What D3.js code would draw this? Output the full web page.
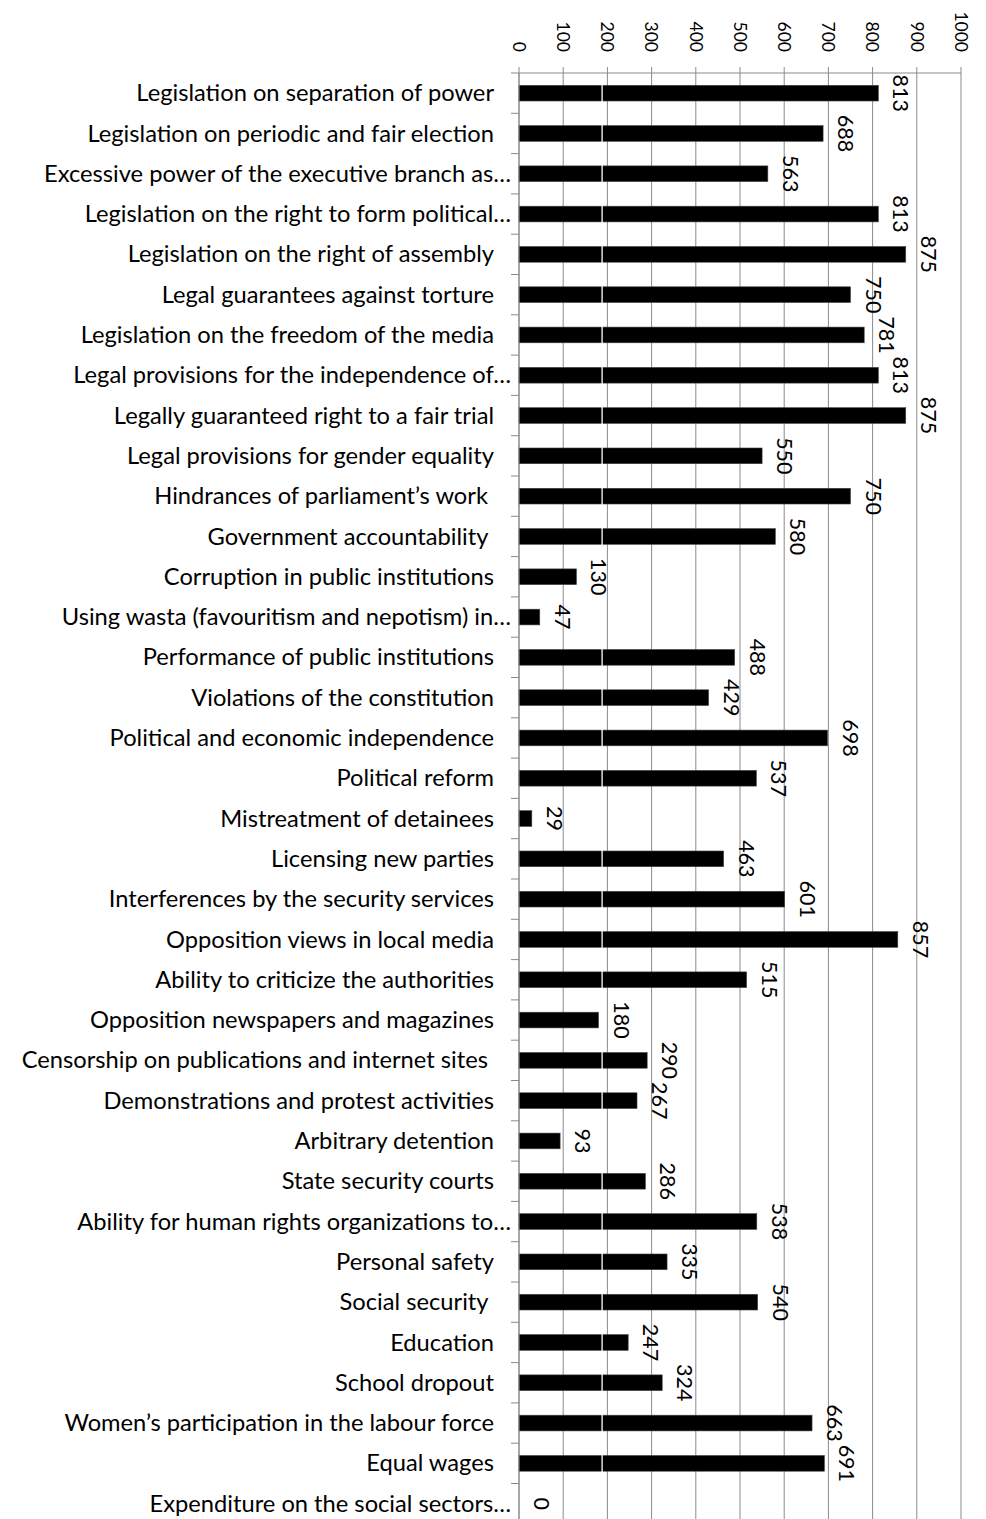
<!DOCTYPE html>
<html>
<head>
<meta charset="utf-8">
<script src="https://cdn.jsdelivr.net/npm/d3@7"></script>
<style>
	body { margin: 0; background: #fff; }
	svg { display: block; font-family: Lato, "Noto Sans", sans-serif; }
</style>
</head>
<body>
<div id="chart"></div>
<script>
// categories, top to bottom (trailing spaces kept as in the source sheet)
var categories = [
	'Legislation on separation of power',
	'Legislation on periodic and fair election',
	'Excessive power of the executive branch as…',
	'Legislation on the right to form political…',
	'Legislation on the right of assembly',
	'Legal guarantees against torture',
	'Legislation on the freedom of the media',
	'Legal provisions for the independence of…',
	'Legally guaranteed right to a fair trial',
	'Legal provisions for gender equality',
	'Hindrances of parliament’s work ',
	'Government accountability ',
	'Corruption in public institutions',
	'Using wasta (favouritism and nepotism) in…',
	'Performance of public institutions',
	'Violations of the constitution',
	'Political and economic independence',
	'Political reform',
	'Mistreatment of detainees',
	'Licensing new parties',
	'Interferences by the security services',
	'Opposition views in local media',
	'Ability to criticize the authorities',
	'Opposition newspapers and magazines',
	'Censorship on publications and internet sites ',
	'Demonstrations and protest activities',
	'Arbitrary detention',
	'State security courts',
	'Ability for human rights organizations to…',
	'Personal safety',
	'Social security ',
	'Education',
	'School dropout',
	'Women’s participation in the labour force',
	'Equal wages',
	'Expenditure on the social sectors…'
];

var values = [
	813, 688, 563, 813, 875, 750, 781, 813, 875, 550,
	750, 580, 130, 47, 488, 429, 698, 537, 29, 463,
	601, 857, 515, 180, 290, 267, 93, 286, 538, 335,
	540, 247, 324, 663, 691, 0
];

var xTicks = [0, 100, 200, 300, 400, 500, 600, 700, 800, 900, 1000];

// the white seam that cuts every bar in the original picture (in data units)
var seamValue = 188;

var width = 986, height = 1519;
var plotLeft = 519, plotRight = 961, plotTop = 73;
var step = 40.3;

var svg = d3.select('#chart').append('svg')
	.attr('width', width)
	.attr('height', height);

var x = d3.scaleLinear().domain([0, 1000]).range([plotLeft, plotRight]);
var y = d3.scaleBand()
	.domain(categories)
	.range([plotTop, plotTop + step * categories.length])
	.paddingInner(0.61)
	.paddingOuter(0.305);

var gridColor = '#8a8a8a';

// vertical gridlines + top ticks
svg.append('g')
	.selectAll('line')
	.data(xTicks)
	.join('line')
	.attr('x1', d => x(d)).attr('x2', d => x(d))
	.attr('y1', plotTop - 6).attr('y2', height)
	.attr('stroke', gridColor)
	.attr('stroke-width', 1);

// top axis line
svg.append('line')
	.attr('x1', plotLeft).attr('x2', plotRight)
	.attr('y1', plotTop).attr('y2', plotTop)
	.attr('stroke', gridColor);

// top tick labels, rotated
svg.append('g')
	.selectAll('text')
	.data(xTicks)
	.join('text')
	.attr('transform', d => 'translate(' + x(d) + ',' + (plotTop - 21) + ') rotate(90)')
	.attr('text-anchor', 'end')
	.attr('dy', '0.35em')
	.attr('font-size', 17.5)
	.attr('fill', '#000')
	.text(d => d);

// bars
svg.append('g')
	.selectAll('rect')
	.data(values)
	.join('rect')
	.attr('x', x(0))
	.attr('y', (d, i) => y(categories[i]))
	.attr('width', d => x(d) - x(0))
	.attr('height', y.bandwidth())
	.attr('fill', '#000')
	.attr('stroke', '#444')
	.attr('stroke-width', 0.6);

// seam
svg.append('line')
	.attr('x1', x(seamValue)).attr('x2', x(seamValue))
	.attr('y1', plotTop + 1).attr('y2', height)
	.attr('stroke', '#fff')
	.attr('stroke-width', 1.3);

// left axis line + ticks at band edges
svg.append('line')
	.attr('x1', plotLeft).attr('x2', plotLeft)
	.attr('y1', plotTop).attr('y2', height)
	.attr('stroke', gridColor);

svg.append('g')
	.selectAll('line')
	.data(d3.range(categories.length + 1))
	.join('line')
	.attr('x1', plotLeft - 8).attr('x2', plotLeft)
	.attr('y1', i => plotTop + i * y.step()).attr('y2', i => plotTop + i * y.step())
	.attr('stroke', gridColor);

// category labels
svg.append('g')
	.selectAll('text')
	.data(categories)
	.join('text')
	.attr('x', d => d.endsWith('…') ? plotLeft - 8 : plotLeft - 25)
	.attr('y', d => y(d) + y.bandwidth() / 2)
	.attr('dy', '0.34em')
	.attr('text-anchor', 'end')
	.attr('xml:space', 'preserve')
	.style('white-space', 'pre')
	.attr('font-size', 23.7)
	.attr('fill', '#000')
	.text(d => d);

// value labels, rotated
svg.append('g')
	.selectAll('text')
	.data(values)
	.join('text')
	.attr('transform', (d, i) => 'translate(' + (x(d) + 15) + ',' + (y(categories[i]) + y.bandwidth() / 2) + ') rotate(90)')
	.attr('text-anchor', 'middle')
	.attr('font-size', 21.5)
	.attr('fill', '#000')
	.text(d => d);
</script>
</body>
</html>
